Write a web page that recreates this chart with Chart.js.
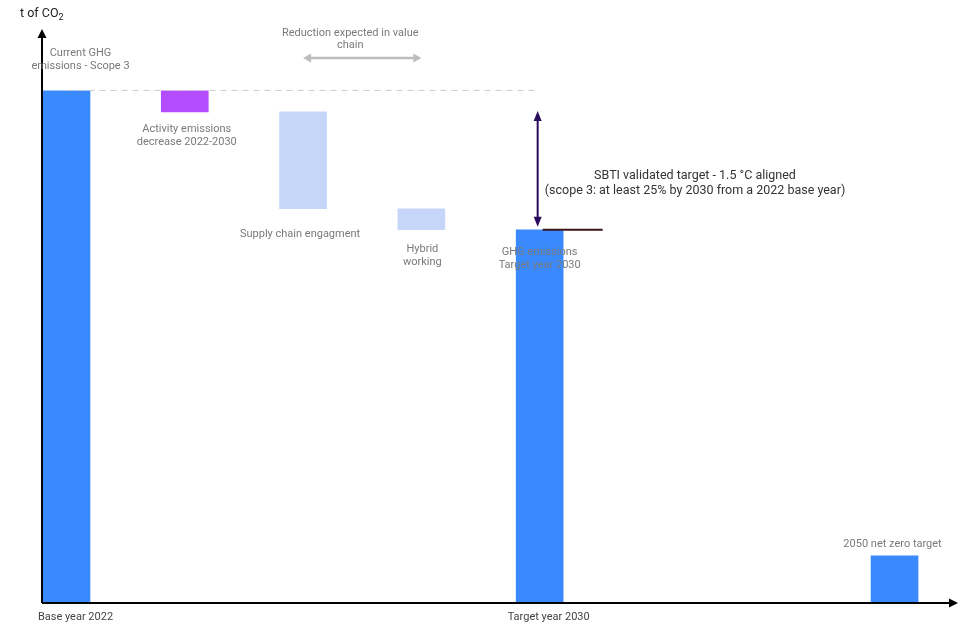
<!DOCTYPE html>
<html>
<head>
<meta charset="utf-8">
<script src="https://cdn.jsdelivr.net/npm/chart.js@4.4.0/dist/chart.umd.min.js"></script>
<style>
  html, body { margin: 0; padding: 0; background: #fff; }
  #wrap { width: 964px; height: 625px; position: relative; }
</style>
</head>
<body>
<div id="wrap"><canvas id="chart"></canvas></div>
<script>
// waterfall steps, slot = position on the x axis (5 and 6 stay empty)
const slots = [0, 1, 2, 3, 4, 7];
const stepLabels = [
  ["Current GHG", "emissions - Scope 3"],
  ["Activity emissions", "decrease 2022-2030"],
  ["Supply chain engagment"],
  ["Hybrid", "working"],
  ["GHG emissions", "Target year 2030"],
  ["2050 net zero target"],
];
const barFrom = [0, 95.9, 77.0, 72.9, 0, 0];
const barTo = [100, 100, 95.9, 77.0, 72.9, 9.2];
const barKind = ["total", "activity", "value", "value", "total", "total"];
const axisTicks = [0, 4];
const axisTickLabels = ["Base year 2022", "Target year 2030"];
const baseLevel = 100;
const targetLevel = 72.9;
const yTitle = "t of CO";
const valueChainNote = ["Reduction expected in value", "chain"];
const sbtiNote = [
  "SBTI validated target - 1.5 °C aligned",
  "(scope 3: at least 25% by 2030 from a 2022 base year)",
];

const FONT = "Roboto, 'Noto Sans', sans-serif";
const kindColors = { total: "#3a8afe", activity: "#b34dff", value: "#c6d6f8" };

// where each step label sits, relative to its bar
const labelPlace = [
  { dx: 14, edge: "top", dy: -25, step: 13 },
  { dx: 2, edge: "bottom", dy: 17, step: 13 },
  { dx: -3, edge: "bottom", dy: 26, step: 13 },
  { dx: 1, edge: "bottom", dy: 20, step: 13 },
  { dx: 0, edge: "top", dy: 23, step: 12.5 },
  { dx: -2, edge: "top", dy: -12, step: 13 },
];

function head(ctx, x, y, ang, len, half) {
  ctx.save();
  ctx.translate(x, y);
  ctx.rotate(ang);
  ctx.beginPath();
  ctx.moveTo(0, 0);
  ctx.lineTo(-len, -half);
  ctx.lineTo(-len, half);
  ctx.closePath();
  ctx.fill();
  ctx.restore();
}

const overlay = {
  id: "overlay",
  afterDatasetsDraw(chart) {
    const { ctx, chartArea: a, scales: { x, y } } = chart;
    ctx.save();

    // dashed base level line, sits on the top edge of the bars
    ctx.strokeStyle = "#cccccc";
    ctx.lineWidth = 1;
    ctx.setLineDash([6, 5]);
    ctx.beginPath();
    ctx.moveTo(x.getPixelForValue(0), y.getPixelForValue(baseLevel) - 0.5);
    ctx.lineTo(x.getPixelForValue(4), y.getPixelForValue(baseLevel) - 0.5);
    ctx.stroke();
    ctx.setLineDash([]);

    // axes with arrows
    ctx.strokeStyle = "#000";
    ctx.fillStyle = "#000";
    ctx.lineWidth = 2;
    ctx.beginPath();
    ctx.moveTo(a.left, a.bottom);
    ctx.lineTo(a.left, a.top + 6);
    ctx.moveTo(a.left, a.bottom);
    ctx.lineTo(a.right - 6, a.bottom);
    ctx.stroke();
    head(ctx, a.left, a.top - 1, -Math.PI / 2, 9, 4.5);
    head(ctx, a.right + 1, a.bottom, 0, 9, 4.5);

    // y title with subscript
    ctx.fillStyle = "#222";
    ctx.font = "12.5px " + FONT;
    ctx.textAlign = "left";
    ctx.textBaseline = "middle";
    ctx.fillText(yTitle, 20, 14);
    const w = ctx.measureText(yTitle).width;
    ctx.font = "9px " + FONT;
    ctx.fillText("2", 20 + w, 18);

    // step labels
    ctx.fillStyle = "#7a7a7a";
    ctx.font = "11px " + FONT;
    ctx.textAlign = "center";
    stepLabels.forEach((lines, i) => {
      const p = labelPlace[i];
      const cx = x.getPixelForValue(slots[i]) + p.dx;
      const edgeVal = p.edge === "top" ? barTo[i] : barFrom[i];
      const y0 = y.getPixelForValue(edgeVal) + p.dy;
      const n = lines.length;
      lines.forEach((t, k) => {
        const off = p.dy < 0 ? (k - (n - 1)) * p.step : k * p.step;
        ctx.fillText(t, cx, y0 + off);
      });
    });

    // axis tick labels
    ctx.fillStyle = "#444";
    axisTicks.forEach((s, i) => {
      ctx.fillText(axisTickLabels[i], x.getPixelForValue(s) + 9, a.bottom + 14);
    });

    // value chain note + grey double arrow
    const x2 = x.getPixelForValue(2), x3 = x.getPixelForValue(3);
    ctx.fillStyle = "#7a7a7a";
    ctx.fillText(valueChainNote[0], (x2 + x3) / 2 - 12, 33);
    ctx.fillText(valueChainNote[1], (x2 + x3) / 2 - 12, 45);
    ctx.strokeStyle = "#bdbdbd";
    ctx.fillStyle = "#bdbdbd";
    ctx.lineWidth = 2.5;
    ctx.beginPath();
    ctx.moveTo(x2 + 6, 58);
    ctx.lineTo(x3 - 6, 58);
    ctx.stroke();
    head(ctx, x2, 58, Math.PI, 8, 4.5);
    head(ctx, x3, 58, 0, 8, 4.5);

    // target double arrow
    const tx = x.getPixelForValue(4) - 2;
    const yTop = y.getPixelForValue(barFrom[1]);
    const yTgt = y.getPixelForValue(targetLevel);
    ctx.strokeStyle = "#2b0c5c";
    ctx.fillStyle = "#2b0c5c";
    ctx.lineWidth = 2;
    ctx.beginPath();
    ctx.moveTo(tx, yTop + 6);
    ctx.lineTo(tx, yTgt - 9);
    ctx.stroke();
    head(ctx, tx, yTop - 1, -Math.PI / 2, 10, 4);
    head(ctx, tx, yTgt - 3, Math.PI / 2, 10, 4);

    // target level tick
    ctx.strokeStyle = "#3a1418";
    ctx.lineWidth = 2;
    ctx.beginPath();
    ctx.moveTo(tx + 5, yTgt);
    ctx.lineTo(tx + 65, yTgt);
    ctx.stroke();

    // SBTI note
    ctx.fillStyle = "#333";
    ctx.font = "12.5px " + FONT;
    ctx.fillText(sbtiNote[0], 695, 176);
    ctx.fillText(sbtiNote[1], 695, 191);

    ctx.restore();
  },
};

new Chart(document.getElementById("chart"), {
  type: "bar",
  data: {
    datasets: [
      {
        data: slots.map((s, i) => ({ x: s, y: [barFrom[i], barTo[i]] })),
        backgroundColor: barKind.map((k) => kindColors[k]),
        borderWidth: 0,
        barThickness: 47,
      },
    ],
  },
  options: {
    responsive: true,
    maintainAspectRatio: false,
    animation: false,
    layout: { padding: { left: 42, right: 7, top: 30, bottom: 22 } },
    plugins: { legend: { display: false }, tooltip: { enabled: false } },
    scales: {
      x: { type: "linear", display: false, offset: false, min: -0.207, max: 7.528 },
      y: { display: false, min: 0, max: 111.9 },
    },
  },
  plugins: [overlay],
});
</script>
</body>
</html>
